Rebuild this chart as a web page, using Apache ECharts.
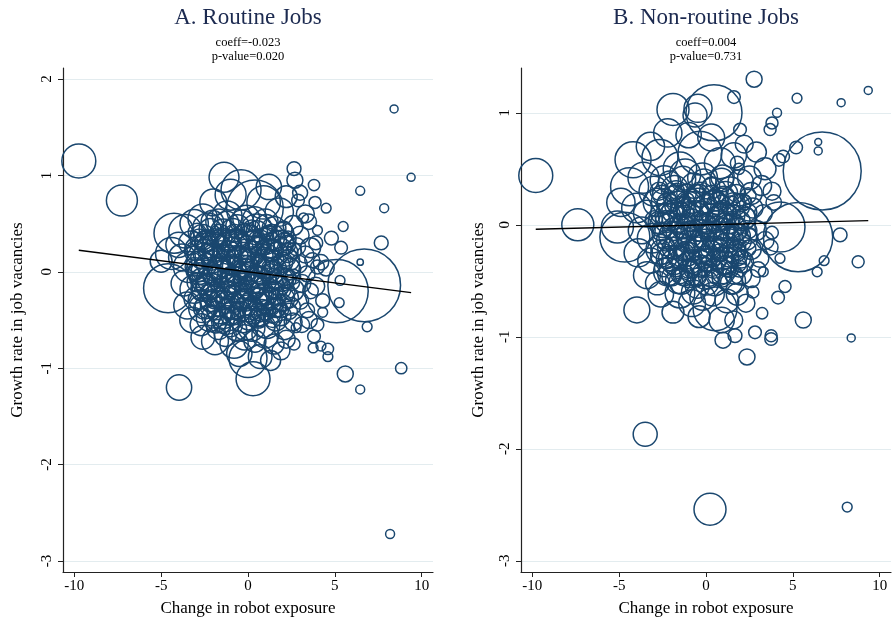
<!DOCTYPE html>
<html><head><meta charset="utf-8">
<script src="https://cdn.jsdelivr.net/npm/echarts@6/dist/echarts.min.js"></script>
<style>html,body{margin:0;padding:0;background:#fff}#c{width:893px;height:626px}</style>
</head><body><div id="c"></div>
<script>
// ---------------- DATA ----------------
const panelTitles = ['A. Routine Jobs', 'B. Non-routine Jobs'];
const panelStats = [['coeff=-0.023', 'p-value=0.020'], ['coeff=0.004', 'p-value=0.731']];
const fitSlope = [-0.023, 0.004];
const fitIntercept = [0.0, 0.0];
const xTicks = [-10, -5, 0, 5, 10];
const yTicksA = [-3, -2, -1, 0, 1, 2];
const yTicksB = [-3, -2, -1, 0, 1];
const xAxisName = 'Change in robot exposure';
const yAxisName = 'Growth rate in job vacancies';

// [robot exposure change, growth rate, weight]
const routineOutliers = [
 [-9.74,1.15,72],[-7.26,0.74,60],[8.41,1.69,4],[9.39,0.98,4],[6.46,0.84,5],[7.84,0.66,5],
 [7.67,0.30,12],[5.48,0.47,6],[6.46,0.10,2.5],[6.69,-0.14,330],[5.1,-0.2,250],[-4.6,-0.17,150],
 [-3.97,-1.2,40],[6.86,-0.57,6],[8.82,-1.0,8],[5.6,-1.06,16],[6.46,-1.22,5],[8.18,-2.72,5],
 [0.29,-1.11,72],[0.0,-0.9,90],[-1.38,0.98,56],[2.65,1.07,12],[2.7,0.95,16],[3.86,0.72,9],
 [4.5,0.66,6],[4.3,-0.42,6],[5.25,-0.32,6],[3.8,-0.67,10],[4.6,-0.8,8],[3.75,-0.79,6],
 [4.2,-0.77,6],[4.6,-0.88,6],[1.9,-0.82,20],[2.65,-0.75,9],[2.77,-0.58,6],[4.5,0.04,16],
 [5.36,0.25,10],[5.3,-0.09,6],[3.2,0.56,6],[2.88,0.74,10],[4.0,0.43,6],[-4.26,0.40,100],
 [-4.4,0.19,64],[-5.0,0.11,30]
];
const routineCluster = [
 [-0.4,0.85,100],[0.4,0.66,200],[-2.0,0.72,45],[1.2,0.88,40],[2.2,0.78,30],[-1.0,0.8,60],[0.9,0.72,70],[1.8,0.62,50],[-2.6,0.55,55],
 [-3.6,0.42,70],[-3.1,0.5,50],[-2.3,0.45,60],[-1.7,0.52,40],[-1.2,0.58,55],[-0.6,0.47,35],[-0.1,0.55,45],[0.5,0.44,60],[1.0,0.52,40],[1.5,0.45,35],[2.0,0.4,30],[2.6,0.48,25],[3.0,0.38,20],[3.5,0.52,15],[-4.0,0.28,40],[3.9,0.3,12],
 [-3.8,0.15,45],[-3.3,0.3,35],[-2.8,0.22,55],[-2.4,0.32,30],[-1.9,0.25,45],[-1.5,0.35,25],[-1.1,0.28,40],[-0.7,0.33,30],[-0.3,0.24,50],[0.1,0.36,35],[0.6,0.27,25],[1.0,0.32,45],[1.4,0.22,30],[1.9,0.3,40],[2.3,0.2,25],[2.8,0.26,20],[3.3,0.18,18],[3.7,0.12,14],
 [-3.4,0.05,60],[-2.9,0.1,30],[-2.5,0.0,45],[-2.1,0.12,25],[-1.7,0.04,35],[-1.3,0.15,45],[-0.9,0.06,25],[-0.5,0.13,40],[-0.1,0.02,30],[0.3,0.12,45],[0.7,0.05,25],[1.1,0.16,35],[1.5,0.02,40],[2.0,0.1,25],[2.4,0.03,30],[2.9,0.08,20],[3.4,-0.02,16],[4.0,0.05,12],
 [-3.7,-0.12,40],[-3.1,-0.18,50],[-2.7,-0.08,30],[-2.2,-0.15,45],[-1.8,-0.05,25],[-1.4,-0.2,40],[-1.0,-0.1,30],[-0.6,-0.18,45],[-0.2,-0.08,25],[0.2,-0.16,40],[0.6,-0.06,30],[1.0,-0.2,50],[1.4,-0.1,25],[1.8,-0.17,35],[2.2,-0.07,25],[2.6,-0.19,30],[3.1,-0.12,20],[3.6,-0.2,15],
 [-3.5,-0.35,45],[-3.0,-0.28,35],[-2.6,-0.38,50],[-2.1,-0.3,30],[-1.6,-0.4,45],[-1.2,-0.27,30],[-0.8,-0.36,40],[-0.4,-0.3,25],[0.0,-0.38,45],[0.4,-0.28,35],[0.8,-0.4,30],[1.2,-0.3,45],[1.6,-0.37,25],[2.0,-0.28,35],[2.5,-0.36,20],[3.0,-0.3,18],[3.4,-0.4,14],
 [-3.2,-0.5,40],[-2.7,-0.55,30],[-2.2,-0.48,45],[-1.7,-0.58,35],[-1.2,-0.5,50],[-0.7,-0.6,30],[-0.3,-0.5,40],[0.2,-0.58,45],[0.6,-0.48,25],[1.1,-0.56,40],[1.6,-0.5,30],[2.1,-0.6,25],[2.6,-0.52,20],[3.1,-0.55,15],
 [-2.6,-0.68,35],[-1.9,-0.72,45],[-1.3,-0.66,30],[-0.8,-0.75,50],[-0.2,-0.68,40],[0.4,-0.72,30],[1.0,-0.65,45],[1.5,-0.75,25],[2.2,-0.7,20],[-0.5,-0.85,40],[0.7,-0.88,35],[1.3,-0.92,25],
 [3.3,0.6,20],[3.6,0.25,25],[4.2,0.1,15],[3.9,-0.15,20],[4.3,-0.3,12],[3.5,-0.5,18],[4.0,-0.55,10],[4.8,0.35,12],[3.8,0.9,8],[3.0,0.82,14]
];
const routineCore = [
 [-2.93,0.41,20],[-2.18,0.44,30],[-1.62,0.39,25],[-0.87,0.43,35],[-0.23,0.40,22],[0.52,0.42,28],[1.27,0.38,20],[2.04,0.44,18],
 [-2.47,0.31,28],[-1.91,0.35,22],[-1.17,0.32,32],[-0.52,0.34,25],[0.18,0.31,30],[0.93,0.35,24],[1.63,0.32,26],[2.31,0.34,16],
 [-3.02,0.22,24],[-2.28,0.26,30],[-1.57,0.23,20],[-0.94,0.25,28],[-0.08,0.22,34],[0.61,0.26,22],[1.33,0.23,30],[1.98,0.25,20],[2.63,0.22,15],
 [-2.71,0.14,26],[-1.98,0.17,32],[-1.31,0.13,24],[-0.63,0.16,30],[0.12,0.14,20],[0.79,0.17,32],[1.52,0.13,22],[2.23,0.16,24],
 [-3.08,0.05,22],[-2.37,0.08,28],[-1.72,0.04,30],[-1.03,0.07,22],[-0.27,0.05,35],[0.41,0.08,26],[1.12,0.04,28],[1.83,0.07,24],[2.48,0.05,18],
 [-2.82,-0.02,30],[-2.06,-0.04,22],[-1.42,-0.01,34],[-0.71,-0.05,26],[0.03,-0.02,30],[0.72,-0.04,22],[1.41,-0.01,32],[2.12,-0.05,20],
 [-2.97,-0.11,22],[-2.38,-0.13,30],[-1.68,-0.10,24],[-0.98,-0.14,32],[-0.31,-0.11,22],[0.38,-0.13,34],[1.08,-0.10,24],[1.79,-0.14,28],[2.51,-0.11,16],
 [-2.66,-0.20,26],[-2.02,-0.23,34],[-1.28,-0.19,22],[-0.58,-0.22,30],[0.09,-0.20,26],[0.83,-0.23,30],[1.49,-0.19,22],[2.19,-0.22,20],
 [-2.88,-0.29,24],[-2.17,-0.31,26],[-1.53,-0.28,32],[-0.79,-0.32,24],[-0.12,-0.29,32],[0.57,-0.31,24],[1.29,-0.28,28],[1.97,-0.32,20],
 [-2.52,-0.38,28],[-1.81,-0.40,22],[-1.08,-0.37,30],[-0.41,-0.41,26],[0.27,-0.38,30],[1.02,-0.40,24],[1.68,-0.37,22],[2.38,-0.41,16],
 [-2.11,-0.46,24],[-1.38,-0.48,28],[-0.68,-0.45,22],[0.02,-0.49,30],[0.73,-0.46,26],[1.42,-0.48,22],
 [-2.0,0.0,20],[-1.5,0.1,18],[-1.0,-0.05,22],[-0.5,0.0,16],[0.0,0.08,20],[0.5,-0.02,18],[1.0,0.06,22],[1.5,-0.05,16],[-2.3,-0.22,18],[-1.3,-0.3,20],[-0.3,-0.2,16],[0.7,-0.25,20],[1.7,-0.25,18],[-1.8,0.35,16],[-0.8,0.4,20],[0.2,0.45,18],[1.2,0.4,16],[2.2,0.3,14],[-2.8,0.35,20],[-0.9,-0.45,18],[0.3,-0.45,20],[1.4,-0.45,16],[-1.5,-0.55,18],[2.6,-0.05,14],[-3.0,0.0,18],[-0.05,-0.3,14],[0.9,0.25,14],[-1.2,0.2,14],[-2.4,0.2,16],[1.9,-0.4,14]
];
const routineCore2 = [
 [-2.62,0.36,40],[-1.95,0.29,34],[-1.41,0.41,44],[-0.73,0.30,38],[-0.05,0.37,42],[0.66,0.31,36],[1.38,0.36,40],[2.12,0.29,30],
 [-2.45,0.18,36],[-1.78,0.11,44],[-1.12,0.20,34],[-0.41,0.12,46],[0.27,0.19,38],[0.98,0.10,42],[1.66,0.19,34],[2.36,0.12,28],
 [-2.91,0.01,32],[-2.21,-0.07,42],[-1.55,0.02,38],[-0.86,-0.08,46],[-0.17,0.01,40],[0.53,-0.09,44],[1.24,0.02,36],[1.93,-0.08,34],
 [-2.55,-0.17,40],[-1.86,-0.26,36],[-1.19,-0.15,44],[-0.47,-0.25,40],[0.21,-0.16,46],[0.92,-0.26,38],[1.61,-0.16,36],[2.29,-0.27,28],
 [-2.37,-0.36,34],[-1.66,-0.33,40],[-0.94,-0.43,36],[-0.22,-0.34,44],[0.48,-0.44,38],[1.18,-0.34,36],[1.87,-0.45,28],
 [-1.23,0.50,38],[-0.35,0.52,34],[0.39,0.55,36],[1.05,0.48,30],[-2.05,0.52,32],
 [-1.02,-0.55,36],[-0.15,-0.58,40],[0.88,-0.56,34],[-1.85,-0.52,30]
];
const nonroutineOutliers = [
 [-9.8,0.44,72],[-7.38,0.0,64],[2.77,1.30,16],[9.34,1.20,4],[5.24,1.13,6],[7.78,1.09,4],
 [4.09,1.0,5],[3.8,0.91,9],[3.69,0.85,9],[1.61,1.14,10],[-1.9,1.03,64],[-0.46,1.04,49],
 [0.46,1.0,196],[-0.63,0.98,36],[1.96,0.85,10],[6.69,0.48,380],[6.46,0.74,3],[6.46,0.66,4],
 [5.19,0.69,10],[4.44,0.61,10],[4.2,0.58,10],[7.72,-0.09,12],[8.76,-0.33,9],[6.8,-0.32,6],
 [6.4,-0.42,6],[5.6,-0.85,16],[8.36,-1.01,4],[5.3,-0.11,300],[4.26,-0.02,156],[3.8,-0.07,10],
 [4.26,-0.3,6],[4.55,-0.55,9],[4.15,-0.65,10],[3.23,-0.79,8],[2.82,-0.96,10],[3.75,-0.99,9],
 [3.75,-1.02,10],[1.67,-0.99,12],[0.98,-1.03,16],[2.36,-1.18,16],[-3.98,-0.76,42],[2.7,-0.6,9],
 [3.3,-0.42,6],[-3.5,-1.87,36],[0.23,-2.54,64],[8.13,-2.52,6]
];
const nonroutineCluster = [
 [-4.2,0.58,81],[-2.65,0.6,81],[-0.35,0.64,120],[-1.5,0.5,70],[0.8,0.55,60],[1.6,0.62,40],[2.2,0.72,20],[1.8,0.55,12],[1.9,0.5,8],[-3.2,0.7,50],[-1.0,0.8,40],[2.9,0.65,25],[3.4,0.5,30],[0.3,0.78,45],[2.5,0.42,35],[-2.2,0.82,50],
 [-4.4,0.34,90],[-3.6,0.42,60],[-3.0,0.3,55],[-2.4,0.4,50],[-1.8,0.32,45],[-1.2,0.45,60],[-0.7,0.35,40],[-0.2,0.42,55],[0.4,0.3,45],[0.9,0.4,35],[1.4,0.3,50],[2.0,0.38,40],[2.6,0.28,30],[3.2,0.35,25],[3.8,0.3,20],[-4.9,0.2,50],
 [-4.0,0.15,55],[-3.4,0.1,45],[-2.8,0.2,50],[-2.2,0.08,40],[-1.6,0.18,45],[-1.0,0.1,35],[-0.5,0.2,50],[0.0,0.12,40],[0.5,0.22,30],[1.0,0.08,45],[1.6,0.18,35],[2.1,0.06,40],[2.7,0.15,25],[3.3,0.1,20],[3.9,0.2,15],
 [-5.1,-0.02,64],[-4.67,-0.11,156],[-3.7,-0.05,45],[-3.1,-0.12,55],[-2.5,0.0,40],[-1.9,-0.1,50],[-1.3,-0.02,35],[-0.8,-0.14,45],[-0.3,-0.05,30],[0.2,-0.12,50],[0.7,-0.03,35],[1.2,-0.13,45],[1.8,-0.04,30],[2.3,-0.12,35],[2.9,-0.05,25],[3.4,-0.14,20],
 [-3.9,-0.25,50],[-3.2,-0.32,40],[-2.6,-0.22,55],[-2.0,-0.3,40],[-1.4,-0.2,45],[-0.9,-0.33,35],[-0.4,-0.22,50],[0.1,-0.3,40],[0.6,-0.2,30],[1.1,-0.32,45],[1.6,-0.24,35],[2.1,-0.33,30],[2.6,-0.22,25],[3.1,-0.3,20],[3.7,-0.2,15],
 [-3.4,-0.45,45],[-2.8,-0.52,35],[-2.2,-0.42,50],[-1.6,-0.5,40],[-1.0,-0.44,45],[-0.5,-0.55,35],[0.0,-0.45,50],[0.5,-0.52,40],[1.0,-0.42,35],[1.5,-0.5,45],[2.0,-0.44,30],[2.6,-0.48,20],[3.0,-0.4,15],
 [-2.6,-0.62,40],[-1.5,-0.61,55],[-0.8,-0.7,45],[0.52,-0.75,120],[-0.2,-0.65,40],[1.2,-0.68,35],[1.8,-0.62,30],[2.3,-0.7,20],[-1.9,-0.78,30],[0.9,-0.85,40],[-0.4,-0.82,30],[1.6,-0.85,20]
];
const nonroutineCore = [
 [-2.55,0.27,22],[-1.83,0.25,30],[-1.12,0.28,24],[-0.41,0.26,32],[0.33,0.27,22],[1.04,0.25,28],[1.76,0.28,20],[2.42,0.26,16],
 [-2.21,0.19,28],[-1.49,0.17,22],[-0.77,0.20,30],[-0.06,0.18,26],[0.68,0.19,30],[1.39,0.17,24],[2.08,0.20,20],
 [-2.62,0.10,24],[-1.91,0.12,30],[-1.18,0.09,22],[-0.47,0.11,34],[0.24,0.10,24],[0.97,0.12,30],[1.71,0.09,22],[2.44,0.11,18],
 [-2.29,0.03,30],[-1.57,0.01,22],[-0.84,0.04,32],[-0.13,0.02,24],[0.58,0.03,30],[1.31,0.01,26],[2.02,0.04,20],
 [-2.58,-0.06,22],[-1.86,-0.04,32],[-1.14,-0.07,24],[-0.43,-0.05,30],[0.29,-0.06,22],[1.02,-0.04,32],[1.74,-0.07,22],[2.47,-0.05,16],
 [-2.24,-0.14,28],[-1.52,-0.12,24],[-0.79,-0.15,30],[-0.08,-0.13,26],[0.64,-0.14,30],[1.37,-0.12,22],[2.09,-0.15,20],
 [-2.61,-0.22,24],[-1.89,-0.21,30],[-1.17,-0.23,22],[-0.46,-0.21,32],[0.26,-0.22,24],[0.99,-0.21,28],[1.72,-0.23,22],[2.41,-0.21,16],
 [-2.27,-0.30,26],[-1.55,-0.29,30],[-0.82,-0.31,24],[-0.11,-0.29,30],[0.61,-0.31,26],[1.34,-0.29,24],[2.06,-0.31,18],
 [-2.43,-0.38,22],[-1.71,-0.37,28],[-0.98,-0.39,24],[-0.27,-0.37,30],[0.45,-0.39,24],[1.18,-0.37,28],[1.89,-0.39,18],
 [-1.98,-0.46,24],[-1.26,-0.45,28],[-0.54,-0.47,22],[0.18,-0.45,30],[0.91,-0.47,24],[1.62,-0.45,20],
 [-2.0,0.05,20],[-1.4,0.12,18],[-0.9,-0.05,22],[-0.4,0.05,16],[0.1,0.0,20],[0.6,0.08,18],[1.1,-0.06,22],[1.5,0.05,16],[-2.3,-0.2,18],[-1.2,-0.25,20],[-0.2,-0.15,16],[0.8,-0.25,20],[1.8,-0.2,18],[-1.7,0.3,16],[-0.6,0.28,20],[0.3,0.35,18],[1.2,0.25,16],[2.2,0.2,14],[-2.7,0.3,20],[-0.8,-0.4,18],[0.4,-0.38,20],[1.4,-0.4,16],[-1.5,-0.45,18],[2.5,-0.1,14],[-3.0,0.05,18],[0.0,-0.28,14],[0.9,0.2,14],[-1.1,0.22,14],[-2.4,0.18,16],[1.9,-0.35,14]
];
const nonroutineCore2 = [
 [-2.41,0.21,40],[-1.72,0.29,34],[-1.04,0.18,44],[-0.32,0.27,38],[0.41,0.19,42],[1.13,0.28,36],[1.85,0.17,34],
 [-2.68,0.02,32],[-1.97,0.07,44],[-1.33,-0.01,36],[-0.61,0.08,46],[0.09,0.00,38],[0.82,0.07,42],[1.53,-0.01,36],[2.24,0.06,30],
 [-2.36,-0.10,40],[-1.67,-0.17,36],[-0.98,-0.09,44],[-0.27,-0.18,40],[0.45,-0.09,46],[1.17,-0.18,38],[1.88,-0.10,34],
 [-2.52,-0.27,34],[-1.83,-0.33,40],[-1.11,-0.26,38],[-0.39,-0.34,44],[0.33,-0.26,40],[1.06,-0.34,36],[1.77,-0.27,30],
 [-2.13,-0.44,32],[-1.41,-0.51,38],[-0.69,-0.43,40],[0.04,-0.52,36],[0.76,-0.43,38],[1.46,-0.52,30],
 [-1.32,0.41,40],[-0.12,0.39,36],[0.95,0.43,34],[-2.1,0.38,32],[-0.72,-0.6,36],[0.38,-0.62,34]
];

// ---------------- CHART ----------------
const FONT = '"Liberation Serif", "Times New Roman", serif';
const NAVY = '#1a476f';
const panels = [
  {pts: routineOutliers.concat(routineCluster, routineCore, routineCore2), yTicks: yTicksA, yMin: -3.114, yMax: 2.114, left: 63, cx: 248, yNameGap: 37},
  {pts: nonroutineOutliers.concat(nonroutineCluster, nonroutineCore, nonroutineCore2), yTicks: yTicksB, yMin: -3.1, yMax: 1.40, left: 521, cx: 706, yNameGap: 34}
];
const grids = [], xAxes = [], yAxes = [], series = [], graphics = [];
panels.forEach((p, i) => {
  grids.push({left: p.left, top: 68, width: 370, height: 504});
  xAxes.push({
    type: 'value', gridIndex: i, min: -10.65, max: 10.65,
    name: xAxisName, nameLocation: 'middle', nameGap: 28,
    nameTextStyle: {fontFamily: FONT, fontSize: 17, color: '#000'},
    axisLine: {onZero: false, lineStyle: {color: '#222', width: 1.2}},
    axisTick: {customValues: xTicks, length: 5, lineStyle: {color: '#222'}},
    axisLabel: {customValues: xTicks, fontFamily: FONT, fontSize: 15, color: '#000', margin: 7},
    splitLine: {show: false}
  });
  yAxes.push({
    type: 'value', gridIndex: i, min: p.yMin, max: p.yMax,
    name: yAxisName, nameLocation: 'middle', nameGap: p.yNameGap,
    nameTextStyle: {fontFamily: FONT, fontSize: 17, color: '#000'},
    axisLine: {show: true, onZero: false, lineStyle: {color: '#222', width: 1.2}},
    axisTick: {show: true, customValues: p.yTicks, length: 5, lineStyle: {color: '#222'}},
    axisLabel: {customValues: p.yTicks, rotate: 90, fontFamily: FONT, fontSize: 15, color: '#000', margin: 8},
    splitLine: {show: true, lineStyle: {color: '#e3ecef', width: 1}}
  });
  series.push({
    type: 'scatter', xAxisIndex: i, yAxisIndex: i, clip: false, silent: true,
    data: p.pts.map(d => [d[0], d[1], d[2]]),
    symbol: 'circle',
    symbolSize: d => 4 * Math.sqrt(d[2]),
    itemStyle: {color: 'rgba(0,0,0,0)', borderColor: NAVY, borderWidth: 1.5, opacity: 1}
  });
  const xs = p.pts.map(d => d[0]);
  const x0 = Math.min(...xs), x1 = Math.max(...xs);
  series.push({
    type: 'line', xAxisIndex: i, yAxisIndex: i, symbol: 'none', silent: true, z: 5,
    data: [[x0, fitIntercept[i] + fitSlope[i] * x0], [x1, fitIntercept[i] + fitSlope[i] * x1]],
    lineStyle: {color: '#000', width: 1.4}
  });
  graphics.push({type: 'text', x: p.cx, y: 18, style: {text: panelTitles[i], textAlign: 'center', textVerticalAlign: 'middle', font: '23px ' + FONT, fill: '#1c2a50'}});
  graphics.push({type: 'text', x: p.cx, y: 43, style: {text: panelStats[i][0], textAlign: 'center', textVerticalAlign: 'middle', font: '12.5px ' + FONT, fill: '#000'}});
  graphics.push({type: 'text', x: p.cx, y: 57, style: {text: panelStats[i][1], textAlign: 'center', textVerticalAlign: 'middle', font: '12.5px ' + FONT, fill: '#000'}});
});
const chart = echarts.init(document.getElementById('c'), null, {renderer: 'canvas'});
chart.setOption({
  animation: false, backgroundColor: '#fff',
  grid: grids, xAxis: xAxes, yAxis: yAxes, series: series, graphic: graphics
});
</script></body></html>
